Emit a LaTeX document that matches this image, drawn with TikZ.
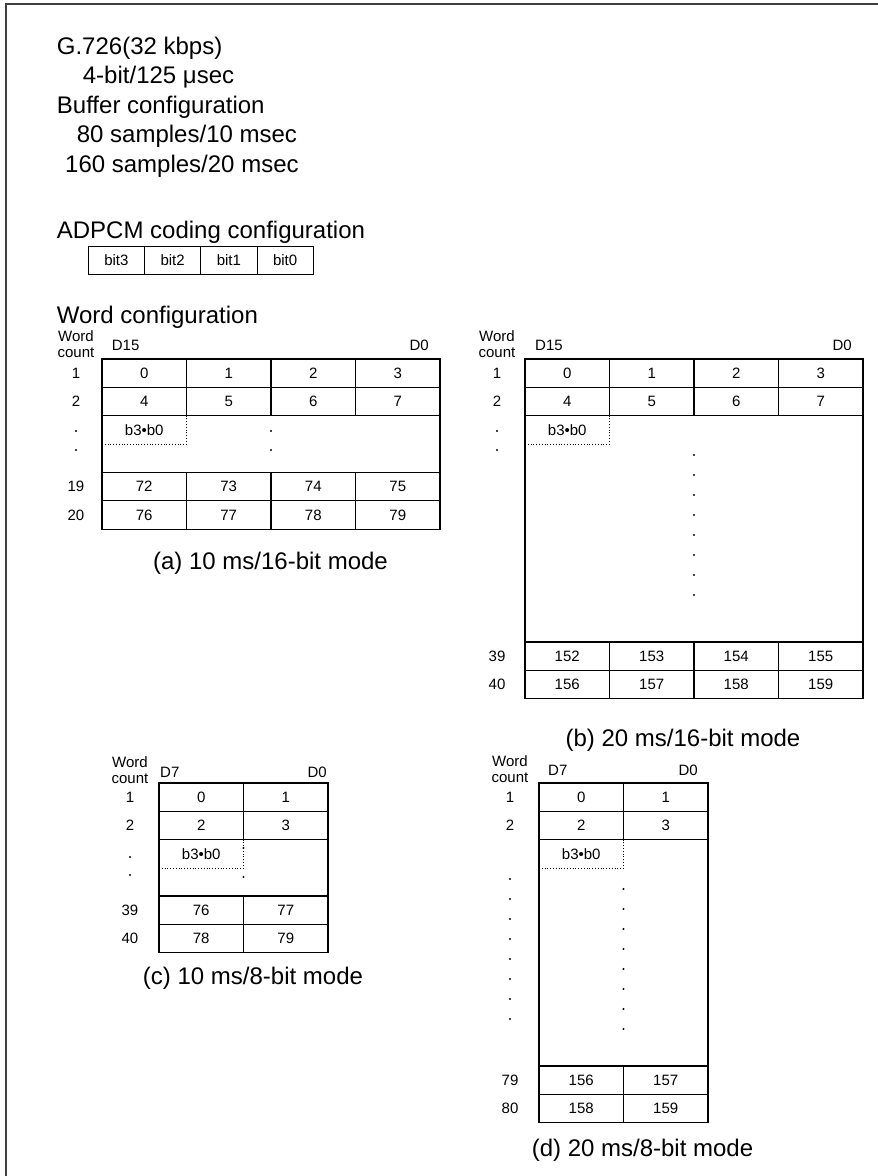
\documentclass[tikz,border=0pt]{standalone}
\usepackage{fontspec}
\setmainfont{Liberation Sans}
\newcommand\bigtxt{\fontsize{24}{28}\selectfont}
\newcommand\smalltxt{\fontsize{15}{17.5}\selectfont}

\begin{document}
\begin{tikzpicture}[
    x=1pt, y=-1pt,
    heading/.style={anchor=base west, inner sep=0pt, font=\bigtxt},
    caption/.style={inner sep=0pt, font=\bigtxt},
    cell/.style={draw, line width=1.1pt, minimum width=84.5pt, minimum height=28.3pt, inner sep=0pt, font=\smalltxt},
    bitcell/.style={draw, line width=1pt, minimum width=56.25pt, minimum height=28pt, inner sep=0pt, font=\smalltxt},
    blank/.style={draw, line width=1.1pt, minimum width=#1, inner sep=0pt},
    subword/.style={draw, dotted, line width=0.8pt, minimum width=84.5pt, minimum height=28.3pt, inner sep=0pt, font=\smalltxt},
    lbl/.style={inner sep=0pt, font=\smalltxt, align=center},
    frame/.style={line width=2pt, black!75}
]
\useasboundingbox (0,0) rectangle (878,1176);

% Page frame (top and left edges only)
\draw[frame] (5.7,1176) -- (5.7,4) -- (878,4);

% Header text
\node[heading] (title) at (56.7,54) {G.726(32 kbps)};
\node[heading] (rate) at (82.7,83.5) {4-bit/125 μsec};
\node[heading] (buffer) at (56.7,113) {Buffer configuration};
\node[heading] (buf10) at (76.7,142.5) {80 samples/10 msec};
\node[heading] (buf20) at (65,172) {160 samples/20 msec};

% ADPCM coding configuration
\node[heading] (adpcm) at (56.7,238) {ADPCM coding configuration};
\foreach \b [count=\i from 0] in {3,2,1,0}
    \node[bitcell] (bit\b) at (116.4+56.25*\i,260.3) {bit\b};

\node[heading] (wordcfg) at (56.7,323) {Word configuration};

% (a) 10 ms/16-bit mode
\node[lbl] (aword) at (76,344) {Word\\[-1pt]count};
\node[lbl, anchor=west] (ad15) at (111.7,345) {D15};
\node[lbl, anchor=east] (ad0) at (429,345) {D0};
\node[blank=338pt, minimum height=57pt] (agap) at (271,444.1) {};
\node[subword] (asub) at (144.25,429.75) {b3•b0};
\foreach \row/\y/\first in {1/373.15/0, 2/401.45/4, 19/486.75/72, 20/515.05/76} {
    \node[lbl] (a\row) at (76,\y) {\row};
    \foreach \i in {0,...,3} {
        \pgfmathtruncatemacro\v{\first+\i}
        \node[cell] (a\row-\i) at (144.25+84.5*\i,\y) {\v};
    }
}
\foreach \y in {431,450} {
    \fill (76,\y) circle (1.1pt);
    \fill (271,\y) circle (1.1pt);
}
\node[caption] (acap) at (270.5,563) {(a) 10 ms/16-bit mode};

% (b) 20 ms/16-bit mode
\node[lbl] (bword) at (497,344) {Word\\[-1pt]count};
\node[lbl, anchor=west] (bd15) at (535,345) {D15};
\node[lbl, anchor=east] (bd0) at (852,345) {D0};
\node[blank=338pt, minimum height=226.4pt] (bgap) at (694,528.8) {};
\node[subword] (bsub) at (567.25,429.75) {b3•b0};
\foreach \row/\y/\first in {1/373.15/0, 2/401.45/4, 39/656.15/152, 40/684.45/156} {
    \node[lbl] (b\row) at (497,\y) {\row};
    \foreach \i in {0,...,3} {
        \pgfmathtruncatemacro\v{\first+\i}
        \node[cell] (b\row-\i) at (567.25+84.5*\i,\y) {\v};
    }
}
\foreach \y in {431,450}
    \fill (497,\y) circle (1.1pt);
\foreach \y in {455,475,...,595}
    \fill (694,\y) circle (1.1pt);
\node[caption] (bcap) at (683,740) {(b) 20 ms/16-bit mode};

% (c) 10 ms/8-bit mode
\node[lbl] (cword) at (130,770) {Word\\[-1pt]count};
\node[lbl, anchor=west] (cd7) at (160,772) {D7};
\node[lbl, anchor=east] (cd0) at (327,772) {D0};
\node[blank=169pt, minimum height=56.4pt] (cgap) at (243.5,867.8) {};
\node[subword] (csub) at (201.25,853.75) {b3•b0};
\foreach \row/\y/\first in {1/797.15/0, 2/825.45/2, 39/910.15/76, 40/938.45/78} {
    \node[lbl] (c\row) at (130,\y) {\row};
    \foreach \i in {0,1} {
        \pgfmathtruncatemacro\v{\first+\i}
        \node[cell] (c\row-\i) at (201.25+84.5*\i,\y) {\v};
    }
}
\foreach \y in {857,875}
    \fill (130,\y) circle (1.1pt);
\foreach \y in {848,877}
    \fill (243.5,\y) circle (1.1pt);
\node[caption] (ccap) at (253,978) {(c) 10 ms/8-bit mode};

% (d) 20 ms/8-bit mode
\node[lbl] (dword) at (510,769) {Word\\[-1pt]count};
\node[lbl, anchor=west] (dd7) at (548,770) {D7};
\node[lbl, anchor=east] (dd0) at (698,770) {D0};
\node[blank=169pt, minimum height=226.4pt] (dgap) at (623.5,952.8) {};
\node[subword] (dsub) at (581.25,853.75) {b3•b0};
\foreach \row/\y/\first in {1/797.15/0, 2/825.45/2, 79/1080.15/156, 80/1108.45/158} {
    \node[lbl] (d\row) at (510,\y) {\row};
    \foreach \i in {0,1} {
        \pgfmathtruncatemacro\v{\first+\i}
        \node[cell] (d\row-\i) at (581.25+84.5*\i,\y) {\v};
    }
}
\foreach \y in {879,899,...,1019}
    \fill (510,\y) circle (1.1pt);
\foreach \y in {889,909,...,1029}
    \fill (623.5,\y) circle (1.1pt);
\node[caption] (dcap) at (642.5,1150) {(d) 20 ms/8-bit mode};

\end{tikzpicture}
\end{document}
